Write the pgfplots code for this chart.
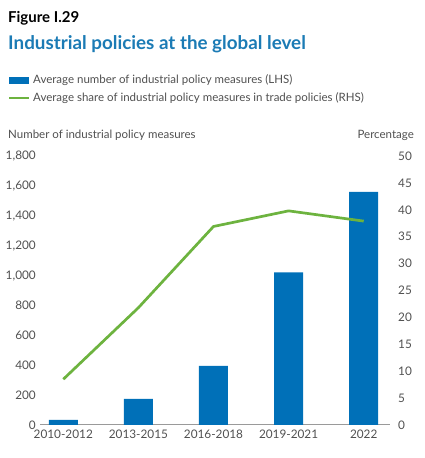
\documentclass[border=0pt]{standalone}
\usepackage{fontspec}
\setmainfont{Lato}
\usepackage{pgfplots}
\pgfplotsset{compat=1.18}
\definecolor{barblue}{HTML}{0070B8}
\definecolor{linegreen}{HTML}{6DB33F}
\definecolor{titleblue}{HTML}{1B7BB5}
\definecolor{txt}{HTML}{505050}
\definecolor{axisgray}{HTML}{9A9A9A}
\begin{document}
\begin{tikzpicture}[x=1pt,y=1pt]
\path[use as bounding box] (0,0) rectangle (425,458);
\node[anchor=base west, inner sep=0pt, font=\fontsize{15}{17}\selectfont\bfseries] at (8,435) {Figure I.29};
\node[anchor=base west, inner sep=0pt, text=titleblue, font=\fontsize{18.8}{20}\selectfont\bfseries] at (8,408) {Industrial policies at the global level};
\fill[barblue] (9,374) rectangle (29,381);
\node[anchor=west, inner sep=0pt, text=txt, font=\fontsize{11.5}{13}\selectfont] at (33,377.5) {Average number of industrial policy measures (LHS)};
\draw[linegreen, line width=2.5pt] (9,360) -- (29,360);
\node[anchor=west, inner sep=0pt, text=txt, font=\fontsize{11.5}{13}\selectfont] at (33,360) {Average share of industrial policy measures in trade policies (RHS)};
\node[anchor=west, inner sep=0pt, text=txt, font=\fontsize{11.5}{13}\selectfont] at (8,323) {Number of industrial policy measures};
\node[anchor=east, inner sep=0pt, text=txt, font=\fontsize{11.5}{13}\selectfont] at (414,323) {Percentage};
\begin{axis}[
  at={(40pt,33pt)}, anchor=south west,
  scale only axis, width=350pt, height=269pt,
  xmin=-0.31, xmax=4.35, ymin=0, ymax=1800,
  axis x line*=bottom, axis y line*=left,
  x axis line style={draw=axisgray, line width=1pt, -},
  y axis line style={draw=none},
  xtick={0,1,2,3,4},
  xticklabels={2010-2012,2013-2015,2016-2018,2019-2021,2022},
  ytick={0,200,...,1800},
  major tick length=0pt,
  tick style={draw=none},
  /pgf/number format/assume math mode=true,
  /pgf/number format/1000 sep={,},
  ticklabel style={text=txt, font=\fontsize{11.8}{13}\selectfont},
  yticklabel style={anchor=east, inner sep=0pt, xshift=-4pt},
  xticklabel style={anchor=north, inner sep=0pt, yshift=-5pt},
]
\addplot[ybar, bar width=29pt, fill=barblue, draw=none] coordinates {
  (0,35) (1,175) (2,395) (3,1022) (4,1560)};
\end{axis}
\begin{axis}[
  at={(40pt,33pt)}, anchor=south west,
  scale only axis, width=350pt, height=269pt,
  xmin=-0.31, xmax=4.35, ymin=0, ymax=50,
  axis x line=none, axis y line*=right,
  y axis line style={draw=none},
  ytick={0,5,...,50},
  major tick length=0pt,
  tick style={draw=none},
  /pgf/number format/assume math mode=true,
  ticklabel style={text=txt, font=\fontsize{11.8}{13}\selectfont},
  yticklabel style={anchor=west, inner sep=0pt, xshift=8pt},
]
\addplot[linegreen, line width=2.7pt, mark=none] coordinates {
  (0,8.5) (1,21.8) (2,36.9) (3,39.8) (4,37.9)};
\end{axis}
\end{tikzpicture}
\end{document}
